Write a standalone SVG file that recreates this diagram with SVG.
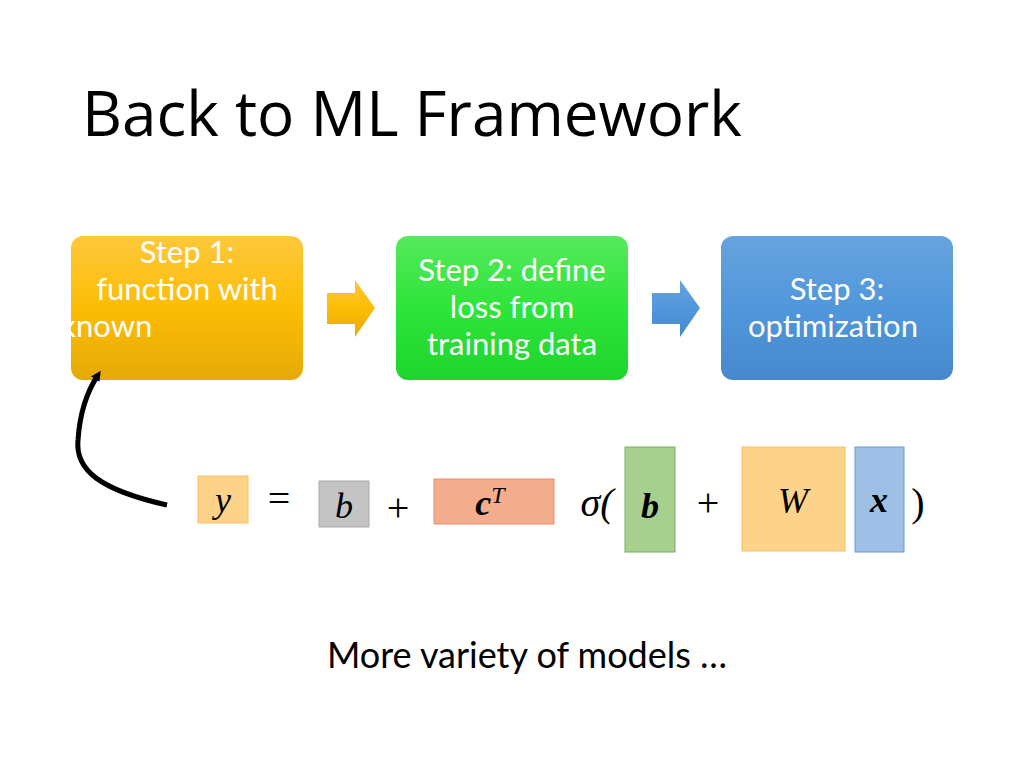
<svg xmlns="http://www.w3.org/2000/svg" width="1024" height="768" viewBox="0 0 1024 768">
<defs>
<linearGradient id="go" x1="0" y1="0" x2="0" y2="1"><stop offset="0" stop-color="#fdc83c"/><stop offset="0.5" stop-color="#fdbd05"/><stop offset="1" stop-color="#e6aa08"/></linearGradient>
<linearGradient id="gg" x1="0" y1="0" x2="0" y2="1"><stop offset="0" stop-color="#55e95c"/><stop offset="0.5" stop-color="#2ee53a"/><stop offset="1" stop-color="#1fd42c"/></linearGradient>
<linearGradient id="gb" x1="0" y1="0" x2="0" y2="1"><stop offset="0" stop-color="#66a3df"/><stop offset="0.5" stop-color="#5197db"/><stop offset="1" stop-color="#4788cc"/></linearGradient>
<marker id="ah" markerWidth="10" markerHeight="10" refX="5" refY="5" orient="auto" markerUnits="userSpaceOnUse"><path d="M0,0 L10,5 L0,10 z" fill="#000"/></marker>
</defs>
<style>
.t{fill:#000}
.w{font-family:Lato,"Liberation Sans",sans-serif;fill:#fff;font-size:31px;text-anchor:middle}
.m{font-family:"Liberation Serif","DejaVu Serif",serif;font-style:italic;font-size:36px;fill:#000;text-anchor:middle}
.o{font-family:"Liberation Serif","DejaVu Serif",serif;font-size:40px;fill:#000;text-anchor:middle}
</style>
<rect width="1024" height="768" fill="#fff"/>
<text class="t" x="82" y="136" font-size="62" style="font-family:'Open Sans','Liberation Sans',sans-serif">Back to ML Framework</text>
<g id="step1"><rect x="71" y="236" width="232" height="144" rx="12" fill="url(#go)"/>
<text class="w" x="187" y="263">Step 1:</text><text class="w" x="187" y="300">function with</text><text class="w" x="89" y="337" text-anchor="start">unknown</text></g>
<g id="step2"><rect x="396" y="236" width="232" height="144" rx="12" fill="url(#gg)"/>
<text class="w" x="512" y="281">Step 2: define</text><text class="w" x="512" y="318">loss from</text><text class="w" x="512" y="355">training data</text></g>
<g id="step3"><rect x="721" y="236" width="232" height="144" rx="12" fill="url(#gb)"/>
<text class="w" x="837" y="300">Step 3:</text><text class="w" x="833" y="337">optimization</text></g>
<g id="connectors">
<path d="M327,293 H355 V280 L375,308 L355,337 V324 H327 z" fill="url(#go)"/>
<path d="M652,293 H680 V280 L700,308 L680,337 V324 H652 z" fill="url(#gb)"/>
<path d="M167,505 C100,490 75,470 78,440 C80,410 88,390 98,375" fill="none" stroke="#000" stroke-width="5" marker-end="url(#ah)"/>
</g>
<g id="equation">
<rect x="198" y="476" width="50" height="47" fill="#fdd38a" stroke="#f5c060"/><text class="m" x="223" y="512">y</text>
<text class="o" x="279" y="512">=</text>
<rect x="319" y="481" width="50" height="46" fill="#c4c4c4" stroke="#aaa"/><text class="m" x="344" y="518">b</text>
<text class="o" x="398" y="521" font-size="30">+</text>
<rect x="434" y="479" width="120" height="45" fill="#f4ad8c" stroke="#e89070"/><text class="m" x="490" y="515" font-weight="bold">c<tspan font-size="24" font-weight="normal" dy="-12">T</tspan></text>
<text class="o" x="597" y="516" font-style="italic" font-size="36">σ(</text>
<rect x="625" y="447" width="50" height="105" fill="#a7d08e" stroke="#7aad5c"/><text class="m" x="650" y="518" font-weight="bold">b</text>
<text class="o" x="708" y="516" font-size="30">+</text>
<rect x="742" y="447" width="103" height="104" fill="#fdd38a" stroke="#f5c060"/><text class="m" x="793" y="513">W</text>
<rect x="855" y="447" width="49" height="105" fill="#9fc0e6" stroke="#6a9ad0"/><text class="m" x="879" y="512" font-weight="bold">x</text>
<text class="o" x="918" y="516" font-size="36">)</text>
</g>
<text class="t" x="527" y="668" font-size="36" text-anchor="middle" style="font-family:Lato,'Liberation Sans',sans-serif">More variety of models …</text>
</svg>
